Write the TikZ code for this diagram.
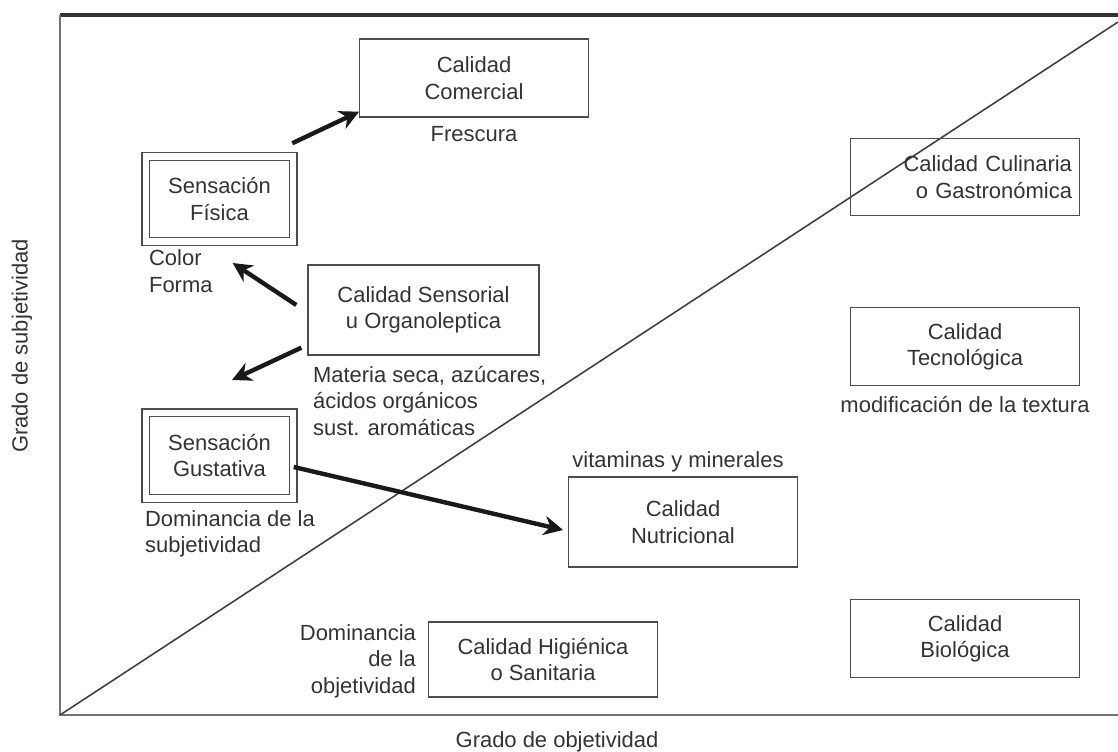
\documentclass[tikz,border=0pt]{standalone}
\usepackage{fontspec}
\setmainfont{Liberation Sans}
\usepackage{tikz}
\usetikzlibrary{arrows.meta,positioning}

\begin{document}
\begin{tikzpicture}[
  x=0.02cm, y=-0.02cm,
  every node/.append style={font=\fontsize{12.5}{15}\selectfont, text=black!80},
  box/.style={draw=black!70, line width=0.8pt, minimum width=4.57cm, minimum height=1.55cm,
              align=center},
  dbox/.style={draw=black!70, line width=0.6pt, double, double distance=0.13cm,
               minimum width=2.95cm, minimum height=1.71cm, align=center},
  lbl/.style={inner sep=1pt},
  arr/.style={-{Stealth[length=11pt,width=11pt]}, line width=2.5pt, black!90},
  axis/.style={line width=1.5pt, black!55}
]
\useasboundingbox (0,0) rectangle (1118,751);

% marco y diagonal
\coordinate (o) at (60,715);
\coordinate (tl) at (60,15);
\coordinate (tr) at (1118,15);
\coordinate (br) at (1118,715);
\coordinate (diag) at (1118,22);
\draw[line width=2pt, black!80] (tl) -- (tr);
\draw[axis] (tl) -- (o) -- (br);
\draw[line width=0.9pt, black!75] (o) -- (diag);

% cajas
\node[box, minimum height=1.56cm] (comercial) at (474,78) {Calidad\\Comercial};
\node[dbox] (fisica) at (219.5,199) {Sensación\\Física};
\node[box, minimum width=4.62cm, minimum height=1.8cm] (sensorial) at (423.5,310) {Calidad Sensorial\\u Organoleptica};
\node[dbox] (gustativa) at (219.5,455.5) {Sensación\\Gustativa};
\node[box, minimum height=1.8cm] (nutricional) at (683,522) {Calidad\\Nutricional};
\node[box, align=right, text width=4.28cm] (culinaria) at (965,177) {Calidad Culinaria\\o Gastronómica};
\node[box] (tecnologica) at (965,346.5) {Calidad\\Tecnológica};
\node[box, minimum height=1.5cm] (higienica) at (543,659.5) {Calidad Higiénica\\o Sanitaria};
\node[box] (biologica) at (965,638.5) {Calidad\\Biológica};

% textos
\node[below=0.05cm of comercial] (frescura) {Frescura};
\node[lbl, anchor=west, align=left] (colorforma) at (147,271) {Color\\Forma};
\node[lbl, anchor=west, align=left] (materia) at (311,401) {Materia seca, azúcares,\\ácidos orgánicos\\sust. aromáticas};
\node[lbl, anchor=west, align=left] (domsub) at (143,534) {Dominancia de la\\subjetividad};
\node[lbl] (vitaminas) at (678,462) {vitaminas y minerales};
\node[below=0.08cm of tecnologica] (textura) {modificación de la textura};
\node[lbl, anchor=east, align=right] (domobj) at (418,661) {Dominancia\\de la\\objetividad};
\node[lbl] (gradoobj) at (557,742) {Grado de objetividad};
\node[lbl, rotate=90] (gradosub) at (22,346) {Grado de subjetividad};

% flechas
\coordinate (gusto) at (232,380);
\draw[arr] ([xshift=-0.03cm, yshift=0.25cm]fisica.north east) -- ([yshift=0.12cm]comercial.south west);
\draw[arr] ([xshift=-0.22cm, yshift=0.1cm]sensorial.west) -- ([xshift=0.36cm, yshift=0.16cm]colorforma.east);
\draw[arr] ([xshift=-0.12cm, yshift=0.16cm]sensorial.south west) -- (gusto);
\draw[arr] ([yshift=-0.23cm]gustativa.east) -- ([xshift=-0.1cm, yshift=-0.16cm]nutricional.west);
\end{tikzpicture}
\end{document}
